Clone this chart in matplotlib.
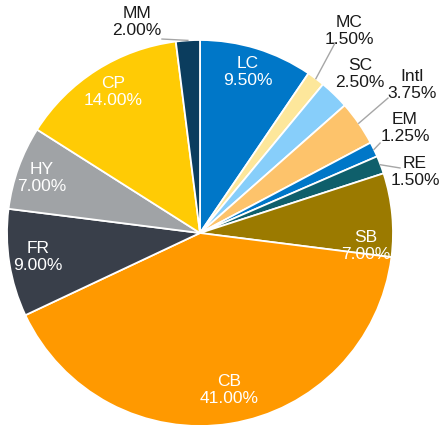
import matplotlib
matplotlib.use("Agg")
import matplotlib.pyplot as plt
import numpy as np

labels = ["LC", "MC", "SC", "Intl", "EM", "RE", "SB", "CB", "FR", "HY", "CP", "MM"]
values = [9.5, 1.5, 2.5, 3.75, 1.25, 1.5, 7.0, 41.0, 9.0, 7.0, 14.0, 2.0]
colors = ["#0077C8", "#FDE79B", "#87CEFA", "#FDC36B", "#0077C8", "#0F5F6B",
          "#9B7A00", "#FF9900", "#393F4A", "#A0A3A6", "#FFCB05", "#0B3D5E"]
inside = [True, False, False, False, False, False, True, True, True, True, True, False]

# label positions (data units, pie radius = 1)
label_pos = {
    "LC": (0.249, 0.834), "MC": (0.772, 1.047), "SC": (0.829, 0.824),
    "Intl": (1.098, 0.767), "EM": (1.062, 0.544), "RE": (1.114, 0.316),
    "SB": (0.860, -0.067), "CB": (0.150, -0.813), "FR": (-0.839, -0.124),
    "HY": (-0.819, 0.285), "CP": (-0.451, 0.731), "MM": (-0.326, 1.093),
}
# leader line label-side anchors
leader_anchor = {
    "MM": [(-0.197, 1.005)],
    "MC": [(0.684, 0.985), (0.700, 0.985)],
    "Intl": [(0.974, 0.699)],
    "EM": [(0.933, 0.466)],
    "RE": [(1.036, 0.337)],
}

fig = plt.figure(figsize=(4.43, 4.25), dpi=100)
ax = fig.add_axes([0, 0, 1, 1])
plt.rcParams['font.family'] = ['Liberation Sans', 'DejaVu Sans']

wedges, _ = ax.pie(values, colors=colors, startangle=90, counterclock=False,
                   radius=1.0, wedgeprops=dict(edgecolor="white", linewidth=1.3))

total = sum(values)
cum = 0
for lab, v, ins in zip(labels, values, inside):
    mid = 90 - (cum + v / 2) / total * 360
    cum += v
    x, y = label_pos[lab]
    txt = f"{lab}\n{v:.2f}%"
    ax.text(x, y, txt, ha="center", va="center", fontsize=12.5,
            color="white" if ins else "#1a1a1a", linespacing=1.22,
            family=['Liberation Sans', 'DejaVu Sans'])
    if lab in leader_anchor:
        ex, ey = np.cos(np.radians(mid)), np.sin(np.radians(mid))
        pts = leader_anchor[lab] + [(ex, ey)]
        ax.plot([p[0] for p in pts], [p[1] for p in pts], color="#a6a6a6", lw=1)

ax.set_xlim(-200 / 193, 243 / 193)
ax.set_ylim(-192 / 193, 233 / 193)
ax.set_aspect("auto")
ax.axis("off")
fig.savefig("out.png", dpi=100)
